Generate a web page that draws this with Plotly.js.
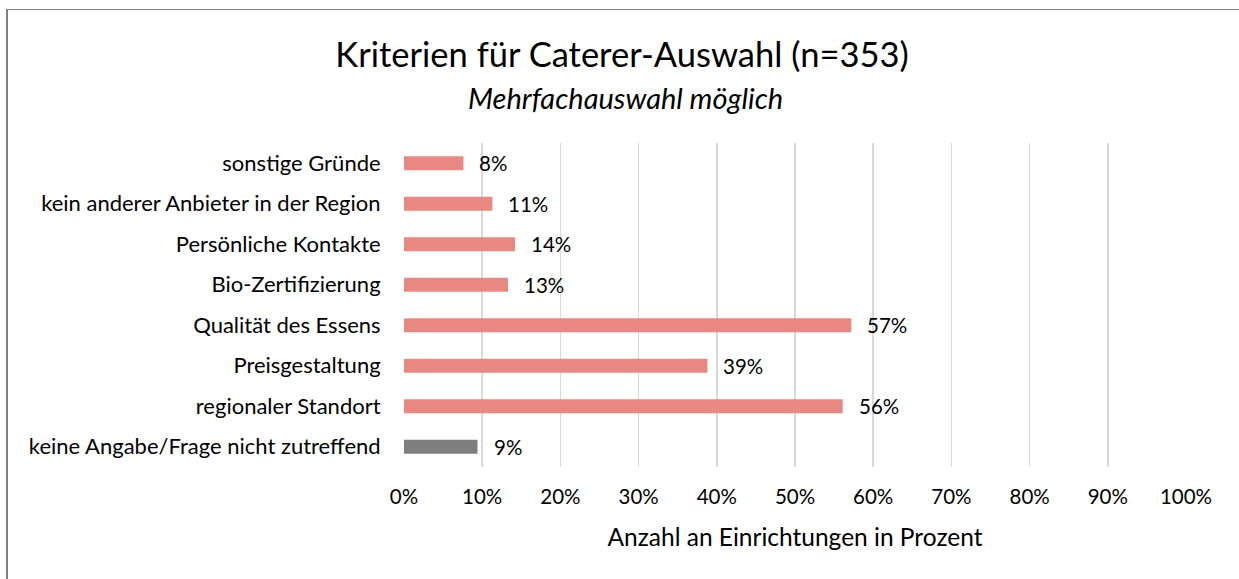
<!DOCTYPE html>
<html><head><meta charset="utf-8">
<script src="https://cdn.plot.ly/plotly-3.0.1.min.js"></script>
<style>
html,body{margin:0;padding:0;background:#fff;overflow:hidden;}
#chart{width:1239px;height:579px;}
#frame{position:absolute;left:6px;top:9px;width:1300px;height:700px;border-left:2px solid #808080;border-top:1px solid #808080;pointer-events:none;}
</style></head>
<body>
<div id="chart"></div>
<div id="frame"></div>
<script>
const categories = ["keine Angabe/Frage nicht zutreffend","regionaler Standort","Preisgestaltung","Qualität des Essens","Bio-Zertifizierung","Persönliche Kontakte","kein anderer Anbieter in der Region","sonstige Gründe"];
const values = [9.4, 56.1, 38.8, 57.2, 13.3, 14.2, 11.3, 7.6];
const barColors = ["#7F7F7F","#E88883","#E88883","#E88883","#E88883","#E88883","#E88883","#E88883"];
const tickVals = [0,10,20,30,40,50,60,70,80,90,100];
const tickText = tickVals.map(v => v + "%");

const FONT = "Lato, 'Open Sans', sans-serif";

const annotations = categories.map((c,i)=>({
  x: values[i], y: c, xref:'x', yref:'y',
  text: Math.round(values[i]) + "%", showarrow:false,
  xanchor:'left', yanchor:'middle', xshift:14,
  font:{family:FONT,size:20.5,color:'#000'}
}));
annotations.push({
  text:"<i>Mehrfachauswahl möglich</i>", xref:'paper', yref:'paper',
  x:0.283, y:(467-97)/324, xanchor:'center', yanchor:'middle', showarrow:false,
  font:{family:FONT,size:29,color:'#000'}
});

Plotly.newPlot('chart',[{
  type:'bar', orientation:'h', x: values, y: categories,
  marker:{color:barColors}, width:0.35, hoverinfo:'none'
}],{
  width:1239, height:579,
  margin:{l:404, r:53, t:143, b:112, pad:0},
  paper_bgcolor:'#fff', plot_bgcolor:'#fff',
  showlegend:false,
  title:{text:"Kriterien für Caterer-Auswahl (n=353)", x:622/1239, xanchor:'center', y:1-55/579, yanchor:'middle', yref:'container', font:{family:FONT,size:34.5,color:'#000'}},
  xaxis:{range:[0,100], tickvals:tickVals, ticktext:tickText, showgrid:true, gridcolor:'#D9D9D9', gridwidth:1.5,
    zeroline:false, showline:false, ticks:'outside', ticklen:11, tickcolor:'rgba(0,0,0,0)',
    tickfont:{family:FONT,size:20.5,color:'#000'}, fixedrange:true,
    title:{text:"Anzahl an Einrichtungen in Prozent", standoff:22, font:{family:FONT,size:24.5,color:'#000'}}},
  yaxis:{categoryorder:'array', categoryarray:categories, showgrid:false, zeroline:false, showline:false,
    ticks:'outside', ticklen:18, tickcolor:'rgba(0,0,0,0)', tickfont:{family:FONT,size:22,color:'#000'}, fixedrange:true},
  annotations: annotations,
  font:{family:FONT}
},{displayModeBar:false, staticPlot:true});
</script>
</body></html>
